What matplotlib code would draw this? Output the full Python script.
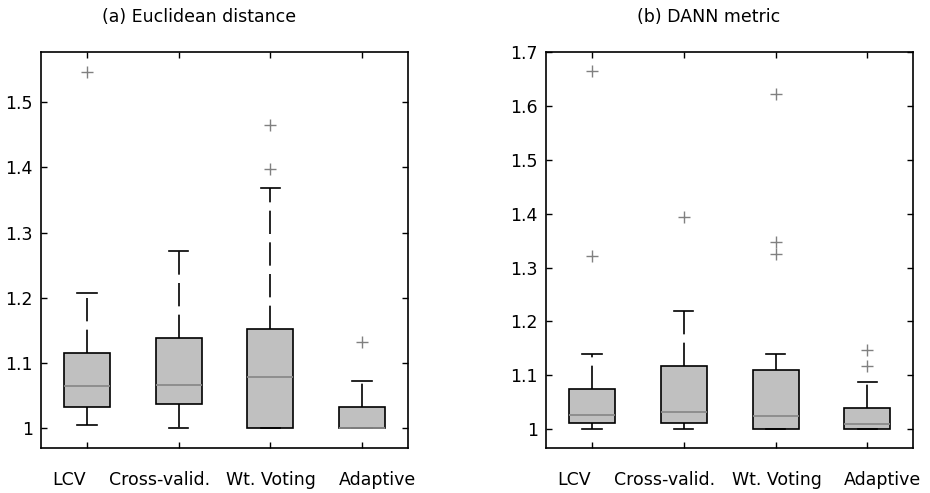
import matplotlib
matplotlib.use("Agg")
import matplotlib.pyplot as plt
import matplotlib.transforms as mtransforms
from matplotlib.ticker import FuncFormatter

plt.rcParams["font.family"] = ["DejaVu Sans"]

methods = ["LCV", "Cross-valid.", "Wt. Voting", "Adaptive"]

# (a) Euclidean distance
euc_lo = [1.005, 1.000, 1.000, 1.000]
euc_q1 = [1.033, 1.038, 1.000, 1.000]
euc_med = [1.065, 1.067, 1.079, 1.000]
euc_q3 = [1.116, 1.138, 1.153, 1.033]
euc_hi = [1.207, 1.272, 1.369, 1.073]
euc_out = [[1.547], [], [1.465, 1.398], [1.133]]

# (b) DANN metric
dann_lo = [1.000, 1.000, 1.000, 1.000]
dann_q1 = [1.011, 1.011, 1.000, 1.000]
dann_med = [1.027, 1.032, 1.024, 1.009]
dann_q3 = [1.075, 1.118, 1.110, 1.040]
dann_hi = [1.139, 1.220, 1.139, 1.087]
dann_out = [[1.665, 1.321], [1.394], [1.622, 1.347, 1.326], [1.146, 1.118]]

# labels in the original are not quite centred under the ticks (pixels)
label_dx = [-18, -19, 1, 15]


def make_stats(lo, q1, med, q3, hi, out):
    stats = []
    for i in range(len(methods)):
        stats.append({"whislo": lo[i], "q1": q1[i], "med": med[i], "q3": q3[i],
                      "whishi": hi[i], "fliers": out[i], "label": methods[i]})
    return stats


def draw_panel(ax, stats, ylim, yticks):
    ax.bxp(stats, positions=[1, 2, 3, 4], widths=0.5, capwidths=0.21,
           patch_artist=True, showfliers=True,
           boxprops=dict(facecolor="#c0c0c0", edgecolor="black", linewidth=1.2),
           medianprops=dict(color="#8a8a8a", linewidth=1.3),
           whiskerprops=dict(color="black", linewidth=1.2, linestyle=(0, (14, 5))),
           capprops=dict(color="black", linewidth=1.2),
           flierprops=dict(marker="+", markeredgecolor="#808080", markersize=9,
                           markeredgewidth=1.0, linestyle="none"))
    ax.set_xlim(0.5, 4.5)
    ax.set_ylim(*ylim)
    ax.set_yticks(yticks)
    ax.yaxis.set_major_formatter(FuncFormatter(lambda v, p: "1" if abs(v - 1) < 1e-9 else f"{v:.1f}"))
    ax.set_xticks([1, 2, 3, 4])
    ax.set_xticklabels([])
    base = ax.get_xaxis_transform()
    for i, name in enumerate(methods):
        tr = base + mtransforms.ScaledTranslation(label_dx[i] / 100, -32 / 100, fig.dpi_scale_trans)
        ax.text(i + 1, 0, name, transform=tr, ha="center", va="center", fontsize=12.5)
    ax.tick_params(direction="in", length=4, width=1, top=True, right=True,
                   labelsize=12.5, colors="black")
    ax.tick_params(axis="y", pad=6)
    for s in ax.spines.values():
        s.set_linewidth(1.2)


fig = plt.figure(figsize=(9.3, 4.93), dpi=100)
ax1 = fig.add_axes([0.0441, 0.0913, 0.3946, 0.8032])
ax2 = fig.add_axes([0.5871, 0.0913, 0.3950, 0.8032])

draw_panel(ax1, make_stats(euc_lo, euc_q1, euc_med, euc_q3, euc_hi, euc_out),
           (0.970, 1.577), [1.0, 1.1, 1.2, 1.3, 1.4, 1.5])
draw_panel(ax2, make_stats(dann_lo, dann_q1, dann_med, dann_q3, dann_hi, dann_out),
           (0.965, 1.700), [1.0, 1.1, 1.2, 1.3, 1.4, 1.5, 1.6, 1.7])

fig.text(199 / 930, 1 - 17 / 493, "(a) Euclidean distance", ha="center", va="center", fontsize=12.5)
fig.text(709 / 930, 1 - 17 / 493, "(b) DANN metric", ha="center", va="center", fontsize=12.5)

fig.savefig("out.png", dpi=100)
